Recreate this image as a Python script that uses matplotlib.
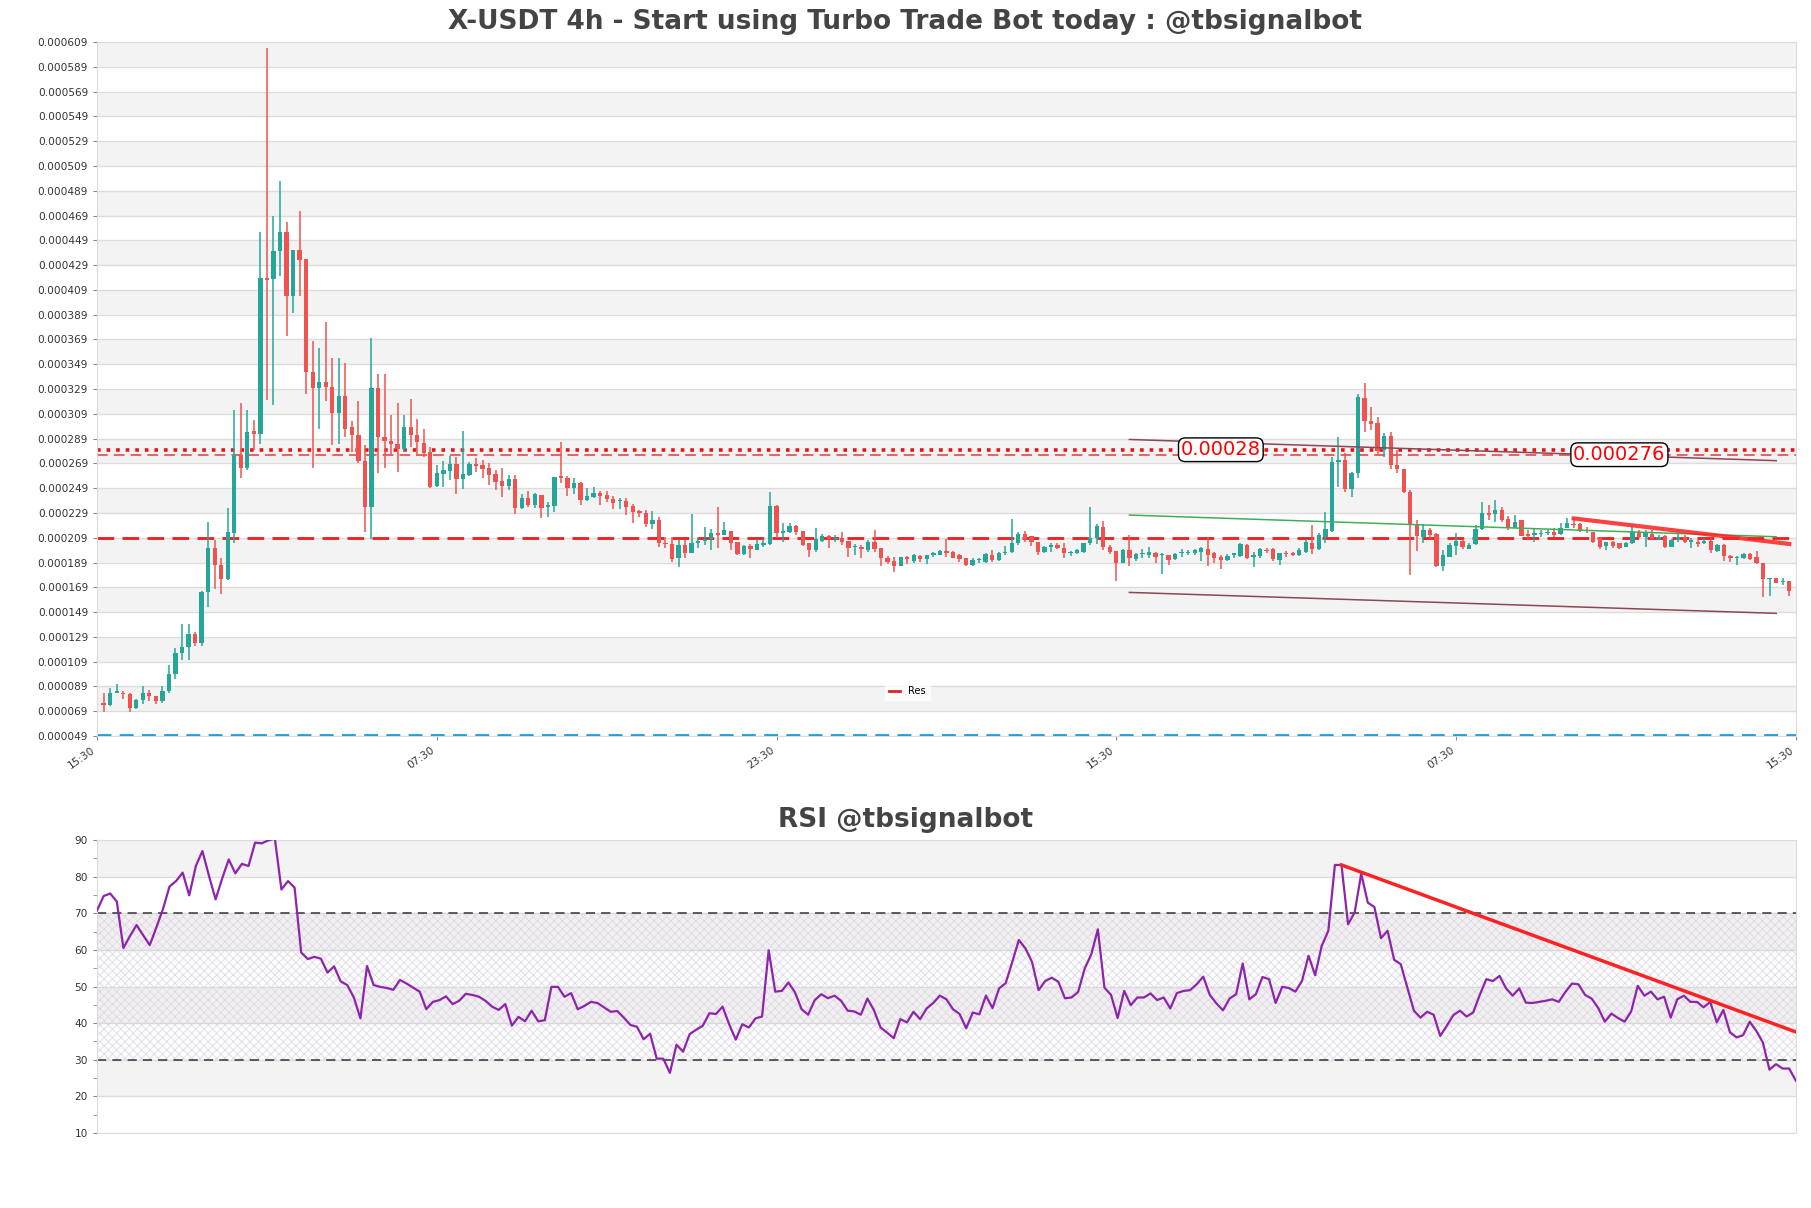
import numpy as np
import matplotlib
matplotlib.use("Agg")
import matplotlib.pyplot as plt
from matplotlib.lines import Line2D

TITLE = "X-USDT 4h - Start using Turbo Trade Bot today : @tbsignalbot"
RSI_TITLE = "RSI @tbsignalbot"

# 4h candles, prices in micro-USDT (1e-6)
opens = [76, 74, 84, 84, 83, 72, 78, 84, 81, 77,
         85.5, 99, 116, 121, 131, 124, 165, 201, 187, 176,
         213, 276, 265, 295, 293, 419, 418, 440, 456, 404,
         441, 434, 343, 330, 335, 331, 310, 323, 298, 292,
         271, 234, 330, 290, 287, 285, 281, 298, 292, 285.7,
         277.9, 250.7, 260.6, 263.1, 268.5, 256.7, 259.4, 268.5, 267.7, 265.3,
         260.4, 255, 250.7, 256.1, 233.3, 241.3, 235.4, 243.5, 234, 234.9,
         258.8, 257.5, 249.4, 253.4, 239.5, 241.5, 245.4, 243.5, 240.3, 238.4,
         238.9, 234.9, 230.6, 229.2, 220.1, 223.3, 205, 204, 192.4, 203.1,
         196.4, 204.5, 206.6, 207.7, 212.5, 211.2, 214.7, 205.8, 195.9, 202.3,
         199.1, 203.1, 204, 234.6, 213.1, 213.6, 218.5, 214.7, 205, 199.1,
         206.6, 210.4, 207.7, 208.5, 206.6, 201.5, 201.8, 199.1, 205.8, 200.4,
         192.4, 190.5, 186.4, 193.7, 190.5, 194.5, 191.6, 194.8, 195.3, 198.3,
         197.2, 195, 192.4, 187, 191, 189.7, 195.3, 191, 196.4, 197.7,
         204.4, 211.7, 210.3, 205.8, 197.7, 201.7, 203.1, 200.9, 196.6, 196.4,
         197.7, 205, 208.5, 217.9, 201.7, 198.2, 188.8, 199, 191.8, 195.6,
         195, 196.4, 195.3, 195, 191.5, 196.9, 197, 196.4, 197.7, 199.6,
         196.4, 193.1, 191, 195, 194.5, 203.1, 193.7, 194.5, 199.4, 199.6,
         191, 196.9, 196.4, 195, 197.7, 205, 199.8, 209.8, 214.7, 269.8,
         271.7, 248, 260.9, 321.5, 303.4, 301.3, 279.8, 291.1, 267.7, 264.2,
         245.6, 219.2, 209.8, 215.2, 212, 186.2, 193.7, 202.3, 206.3, 199.9,
         203.9, 216, 228.7, 228.1, 231.4, 223.8, 217, 223.3, 211.7, 211.2,
         212, 212.7, 213.9, 211.7, 217.1, 220.1, 219.8, 215.2, 213.3, 208.5,
         202.3, 205.3, 204.5, 201.8, 204.5, 213.9, 209.8, 212, 208.2, 210.4,
         201.8, 207.2, 209.3, 205.8, 205.8, 204.5, 206.3, 198.5, 203.1, 194.2,
         192.4, 192.4, 195.9, 193.7, 188.9, 175.4, 176.2, 173.5, 174.1]
highs = [84, 88, 91, 85, 83.5, 79, 89, 86, 81.5, 89,
         106, 120, 139, 139, 133, 166, 222, 207, 193, 233,
         312, 318, 312, 304, 456, 604, 469, 497, 464, 441,
         473, 434, 368, 362, 383, 354, 354, 350, 303, 319,
         284, 370, 341, 341, 308, 318, 308, 321, 305, 296.5,
         282.5, 267.7, 271, 275, 274.4, 295.4, 270, 273, 271.7, 269,
         263.7, 265, 259.6, 259.6, 244.3, 247, 244.8, 243.5, 238, 258.3,
         286.5, 258.8, 256.9, 254.2, 248.9, 249.7, 247, 247, 243, 240.8,
         240.8, 236.2, 231.4, 231.4, 230.6, 226, 210, 210, 207.2, 207.2,
         228, 208.5, 217.4, 216, 233.5, 221.7, 214.7, 205.8, 203.4, 203.7,
         207.7, 208.2, 246.2, 235.4, 220.6, 221.1, 219.3, 214.7, 205, 216.6,
         212, 211.2, 211.2, 213.3, 206.6, 203.9, 203.1, 207.2, 215.2, 200.4,
         194.2, 193.7, 193.7, 194.2, 195.9, 195.3, 195.3, 197.7, 199.1, 207.7,
         198.3, 195.6, 192.9, 192.4, 192.4, 196.9, 199.1, 197.5, 202.3, 223.8,
         213.3, 214.1, 210.3, 205.8, 202.3, 205, 205, 204.4, 198.5, 199.9,
         205, 234, 220, 222.4, 203.1, 198.2, 199.6, 211.1, 196.4, 199.6,
         201.7, 197.7, 196.4, 195, 196.4, 199.6, 199, 199.6, 201.7, 209.8,
         197.7, 195, 195.6, 196.9, 204.4, 203.9, 197.7, 200.4, 200.4, 200.4,
         196.9, 198.5, 197.7, 200.4, 207.9, 219.2, 213, 229.5, 273.9, 290.5,
         277.6, 262.3, 324.7, 333.6, 314.7, 306.1, 293.2, 294.6, 279.8, 264.2,
         247.5, 223.3, 220, 216.6, 212.5, 199.1, 205, 212.5, 207.9, 205,
         219.2, 238, 235.4, 239.4, 233.5, 226.5, 227.3, 223.3, 215.2, 215.7,
         215.2, 216, 216.6, 220.6, 224.6, 224.6, 220.6, 217.9, 213.9, 209.3,
         205.8, 206.6, 205, 205.8, 218.5, 215.2, 215.2, 215.2, 211.2, 211.2,
         207.7, 211.7, 211.2, 208.5, 207.2, 208.5, 208.5, 203.6, 203.6, 195,
         194.2, 196.4, 196.4, 198.3, 188.9, 176.8, 176.8, 176.2, 174.1]
lows = [68, 73, 83.5, 79, 68, 71, 75, 77, 75, 76,
        84, 95, 110, 110, 122, 122, 153, 168, 164, 175,
        205, 257, 264, 280, 285, 320, 316, 420, 372, 390,
        404, 325, 265, 297, 319, 284, 285, 290, 278, 269,
        214, 208, 261, 265, 276, 262, 278, 282, 275, 274.4,
        249, 249.7, 250, 256, 244.3, 248.6, 258.8, 262.3, 257, 251.6,
        247.5, 242.1, 247.5, 228.2, 231.9, 233.5, 233, 224.7, 226, 230,
        253.4, 243, 244.3, 235.4, 238.9, 240.8, 235.4, 238, 231.9, 232.4,
        227.4, 221, 226, 218, 216, 201.3, 201, 189.7, 185.7, 192.4,
        196.4, 200.5, 203.1, 199, 200.4, 211.2, 199, 195, 195.3, 192.9,
        199.1, 201.8, 203.1, 208.5, 205.8, 212.5, 211.2, 202.3, 193.7, 197.7,
        205.8, 200.4, 205.8, 203.1, 193.2, 195, 192.4, 197.7, 197.7, 186.4,
        187.8, 181.6, 186.4, 187.8, 188.9, 189.7, 187.8, 193.7, 195, 193.7,
        192.4, 189.7, 186.2, 186.4, 188.3, 188.3, 189.7, 190.5, 195, 196.9,
        203.1, 205.8, 202.5, 195, 196.9, 197.7, 199.6, 192.4, 194.5, 195.6,
        196.9, 203.1, 203.9, 199.1, 195.6, 174.3, 188.3, 186.1, 190.4, 192.3,
        192.3, 188.8, 179.7, 187, 191, 193.7, 195, 195, 190.4, 186.4,
        188.3, 183.7, 190.2, 192.3, 193.7, 191.5, 185, 192.3, 196.4, 190.4,
        186.9, 193.7, 194.2, 194.2, 196.9, 195.6, 198.8, 204.4, 213.9, 250.2,
        246.1, 242.1, 256.9, 294.6, 295.9, 275.7, 274.4, 264.2, 261.5, 244.8,
        178.9, 198.5, 205, 207.7, 185.6, 182.4, 193.2, 195, 199.9, 199.6,
        203.1, 215.2, 223.3, 221.9, 221.9, 215.2, 216.6, 210.4, 207.1, 205.8,
        209.8, 211.2, 209.8, 211.2, 216.6, 216.6, 213.9, 212.5, 205, 199.6,
        199.1, 200.4, 199.6, 201.2, 203.9, 208.5, 201.2, 207.2, 207.2, 200.4,
        201.2, 205.8, 205, 201, 201.8, 203.9, 196.9, 197.7, 190.5, 189.7,
        187, 191.6, 191, 187.8, 161.4, 162, 172.2, 170.8, 162]
closes = [74, 84, 85, 83, 72, 78, 84, 81, 77, 85,
          99, 116, 121, 131, 124, 165, 201, 187, 176, 214,
          276, 265, 294, 293, 419, 417, 440, 456, 404, 441,
          433, 343, 330, 335, 331, 310, 323, 297, 292, 271,
          234, 330, 290, 287, 285, 281, 298, 292, 286, 277.7,
          250.2, 261, 263.7, 268.5, 256.7, 260.4, 268.5, 267.2, 264.5, 259.6,
          254.2, 250.7, 256.1, 233.3, 241.3, 235.4, 244, 233.3, 235.4, 258.3,
          257.5, 249.4, 253.4, 239.5, 243, 245.4, 242.7, 240.3, 237.3, 239,
          234, 230, 228.7, 220.1, 223.3, 205, 204, 191.6, 203.1, 196.4,
          205, 206.6, 208.2, 212.5, 211.2, 215.2, 205, 195.9, 202.3, 200.2,
          203.9, 205, 234.6, 213.1, 214.7, 218.5, 213.9, 203.1, 199.1, 207.7,
          210.4, 207.7, 208.5, 205.8, 201, 201.8, 199.9, 205.8, 199.9, 192.4,
          189.7, 186.4, 193.2, 191.6, 195.3, 191.6, 195.3, 196.4, 198.3, 196.9,
          192.9, 191.8, 187, 191, 191.5, 195.9, 191, 196.9, 197.7, 205,
          211.9, 207.9, 205.8, 197.7, 201.7, 203.1, 200.4, 196.4, 197.4, 199.1,
          205, 208.9, 218.4, 201.7, 197.7, 188.8, 199, 192.3, 195.6, 196.9,
          197.7, 193.7, 196.1, 191, 195.6, 197.7, 197.7, 199, 200.9, 195,
          192.3, 191, 194.5, 196.4, 203.6, 192.3, 194.8, 199.6, 198.2, 191.5,
          196.4, 195.8, 195.3, 199.1, 205.2, 199.9, 211, 216, 269.8, 271.7,
          248, 260.9, 322.8, 303.2, 300.8, 279.2, 291.1, 267.7, 264.2, 245.6,
          219.2, 210.4, 215.2, 211.2, 186.2, 195, 203.1, 206.3, 201.2, 203.4,
          216, 228.7, 227.3, 231.4, 223.3, 216.6, 221.9, 210.6, 210.6, 212.5,
          213, 213.9, 211.2, 217.1, 220.6, 219, 214.7, 214.2, 205.8, 201.8,
          205.3, 202.3, 200.4, 205, 213.9, 209.8, 212.5, 208.2, 209.3, 201.2,
          207.2, 209.3, 205.8, 207.2, 203.9, 206.3, 199.1, 203.1, 194.2, 192.4,
          193.2, 195.9, 191.6, 188.3, 175.4, 176.2, 172.7, 174.3, 166.3]

rsi = [70.8, 74.7, 75.4, 73.2, 60.5, 63.8, 66.8, 64.0, 61.3, 66.1,
       71.1, 77.3, 78.8, 81.1, 74.9, 82.9, 87.0, 80.2, 73.8, 79.5,
       84.7, 80.9, 83.5, 82.9, 89.3, 89.1, 89.9, 90.4, 76.5, 78.8,
       77.0, 59.3, 57.5, 58.1, 57.6, 53.8, 55.5, 51.4, 50.4, 47.0,
       41.3, 55.6, 50.4, 49.9, 49.6, 49.1, 51.8, 50.8, 49.7, 48.6,
       43.8, 45.8, 46.3, 47.3, 45.2, 46.1, 48.0, 47.7, 47.2, 46.1,
       44.5, 43.6, 45.2, 39.3, 41.7, 40.5, 43.4, 40.5, 40.8, 49.9,
       49.9, 47.2, 48.2, 43.8, 44.7, 45.8, 45.5, 44.3, 43.1, 43.3,
       41.5, 39.5, 39.0, 35.6, 37.1, 30.3, 30.3, 26.4, 34.1, 32.2,
       37.0, 38.2, 39.3, 42.7, 42.5, 44.5, 39.7, 35.5, 39.7, 38.8,
       41.3, 41.8, 59.9, 48.6, 48.8, 51.1, 48.4, 43.8, 42.3, 46.3,
       47.9, 46.8, 47.5, 46.1, 43.4, 43.2, 42.3, 46.7, 43.5, 38.8,
       37.4, 35.9, 41.1, 40.2, 43.1, 41.1, 44.0, 45.5, 47.5, 46.5,
       43.8, 42.5, 38.6, 42.9, 42.4, 47.5, 44.1, 49.5, 50.9, 56.7,
       62.7, 60.4, 56.7, 49.0, 51.5, 52.4, 51.3, 46.8, 47.0, 48.5,
       54.9, 58.8, 65.6, 49.7, 47.7, 41.4, 48.8, 44.9, 47.0, 47.0,
       48.1, 46.3, 47.0, 44.0, 48.2, 48.8, 49.0, 50.6, 52.7, 47.7,
       45.4, 43.5, 46.7, 47.9, 56.3, 46.5, 47.9, 52.6, 52.0, 45.5,
       49.9, 49.6, 48.6, 51.5, 58.4, 53.1, 61.1, 65.2, 83.2, 83.2,
       67.0, 70.2, 80.8, 72.9, 71.7, 63.2, 65.2, 57.3, 56.1, 49.7,
       43.4, 41.5, 43.1, 42.3, 36.5, 39.3, 42.2, 43.4, 41.8, 42.9,
       47.7, 52.0, 51.5, 52.9, 49.5, 47.5, 49.5, 45.6, 45.5, 45.8,
       46.1, 46.5, 45.8, 48.5, 50.8, 50.6, 47.7, 46.7, 44.1, 40.4,
       42.6, 41.4, 40.4, 43.2, 50.2, 47.5, 48.6, 46.5, 47.2, 41.5,
       46.5, 47.5, 45.8, 45.8, 44.3, 45.8, 40.2, 43.6, 37.5, 36.1,
       36.7, 40.4, 37.9, 34.7, 27.3, 28.8, 27.6, 27.6, 24.3]

tick_labels = ["15:30", "07:30", "23:30", "15:30", "07:30", "15:30"]

# levels (micro-USDT)
res_dotted = 280
res_dashed = 276
support_level = 209
floor_level = 49.6
label_a = ("0.00028", 171, 280)
label_b = ("0.000276", 232, 276)

channel_x = [157, 256]
channel_top = [288.3, 271.2]
channel_mid = [227.3, 209.8]
channel_bot = [164.9, 148.0]
trend_x = [225, 258]
trend_y = [224.6, 204.0]
rsi_trend_x = [189, 258]
rsi_trend_y = [83.2, 37.6]

UP = "#26a69a"
DOWN = "#ef5350"
BAND = "#f3f3f3"
GRID = "#dcdcdc"
U = 1e-6

o = np.array(opens) * U
h = np.array(highs) * U
lo = np.array(lows) * U
c = np.array(closes) * U
x = np.arange(len(o))

plt.rcParams["hatch.linewidth"] = 0.5

fig = plt.figure(figsize=(18.11, 12.08), dpi=100)
ax = fig.add_axes([0.0536, 0.3907, 0.938, 0.5745])
ax2 = fig.add_axes([0.0536, 0.0621, 0.938, 0.2425])

# ---- price panel
for k in range(14):
    top = 609 - 40 * k
    ax.axhspan((top - 20) * U, top * U, color=BAND, zorder=0, lw=0)
ax.set_ylim(49 * U, 609 * U)
ax.set_xlim(-1, 259)
ax.set_yticks(np.arange(49, 610, 20) * U)
ax.set_yticklabels([f"{v * U:.6f}" for v in range(49, 610, 20)])
ax.grid(axis="y", color=GRID, lw=1, zorder=0.5)
ax.set_axisbelow(True)

colors = np.where(c >= o, UP, DOWN)
ax.vlines(x, lo, h, colors=colors, lw=1.1, zorder=3)
body = np.maximum(np.abs(c - o), 0.7 * U)
ax.bar(x, body, bottom=np.minimum(o, c), width=0.66, color=colors, zorder=4, lw=0)

ax.axhline(res_dotted * U, color="#ee1111", ls=":", lw=2.6, zorder=2)
ax.axhline(res_dashed * U, color="#e03a3a", ls=(0, (7, 4)), lw=1.1, zorder=2)
ax.axhline(support_level * U, color="#ee1c1c", ls=(0, (6, 3)), lw=2.0, zorder=2)
ax.axhline(floor_level * U, color="#1f9ad6", ls=(0, (5, 3)), lw=2.0, zorder=2)

ax.plot(channel_x, np.array(channel_top) * U, color="#8d4657", lw=1.1, zorder=5)
ax.plot(channel_x, np.array(channel_mid) * U, color="#3fae5a", lw=1.1, zorder=5)
ax.plot(channel_x, np.array(channel_bot) * U, color="#8d4657", lw=1.1, zorder=5)
ax.plot(trend_x, np.array(trend_y) * U, color="#ff2020", lw=3, alpha=0.85, zorder=6)

for txt, xi, yv in (label_a, label_b):
    ax.text(xi, yv * U, txt, color="red", fontsize=14, ha="center", va="center", zorder=7,
            bbox=dict(boxstyle="round,pad=0.12,rounding_size=0.35", fc="white", ec="black", lw=1))

leg = ax.legend(handles=[Line2D([], [], color="#d62728", lw=2)], labels=["Res"],
                loc="lower center", bbox_to_anchor=(0.477, 0.045), fontsize=7,
                frameon=True, fancybox=False, handlelength=1.2)
leg.get_frame().set_edgecolor("white")

ax.set_xticks(np.linspace(-1, 259, 6))
ax.set_xticklabels(tick_labels, rotation=35, ha="right")
ax.tick_params(axis="both", labelsize=7.6, colors="#888", labelcolor="#333", length=3)
for s in ax.spines.values():
    s.set_color(GRID)

# ---- RSI panel
for lo_b in (80, 60, 40, 20):
    ax2.axhspan(lo_b, lo_b + 10, color=BAND, zorder=0, lw=0)
ax2.fill_between([0, len(rsi) - 1], 30, 70, facecolor="#a070b0", alpha=0.025, lw=0, zorder=0.6)
ax2.fill_between([0, len(rsi) - 1], 30, 70, facecolor="none", hatch="xxxx",
                 edgecolor="#dcd6e0", lw=0, zorder=0.7)
ax2.set_ylim(10, 90)
ax2.set_xlim(0, len(rsi) - 1)
ax2.set_yticks(np.arange(10, 91, 10))
ax2.set_yticks(np.arange(15, 90, 10), minor=True)
ax2.grid(axis="y", color=GRID, lw=1, zorder=0.5)
ax2.set_axisbelow(True)
ax2.axhline(70, color="#333", ls=(0, (6, 4)), lw=1.1, zorder=2)
ax2.axhline(30, color="#333", ls=(0, (6, 4)), lw=1.1, zorder=2)
ax2.plot(np.arange(len(rsi)), rsi, color="#8e24aa", lw=1.6, zorder=3)
ax2.plot(rsi_trend_x, rsi_trend_y, color="#ff2222", lw=2.5, zorder=4)
ax2.set_xticks([])
ax2.tick_params(axis="y", which="both", labelsize=7.6, colors="#888", labelcolor="#333", length=3)
for s in ax2.spines.values():
    s.set_color(GRID)

fig.text(0.5, 1 - 22 / 1208, TITLE, ha="center", va="center", fontsize=19,
         fontweight="bold", color="#444")
fig.text(0.5, 1 - 820 / 1208, RSI_TITLE, ha="center", va="center", fontsize=19,
         fontweight="bold", color="#444")

fig.savefig("out.png", dpi=100)
